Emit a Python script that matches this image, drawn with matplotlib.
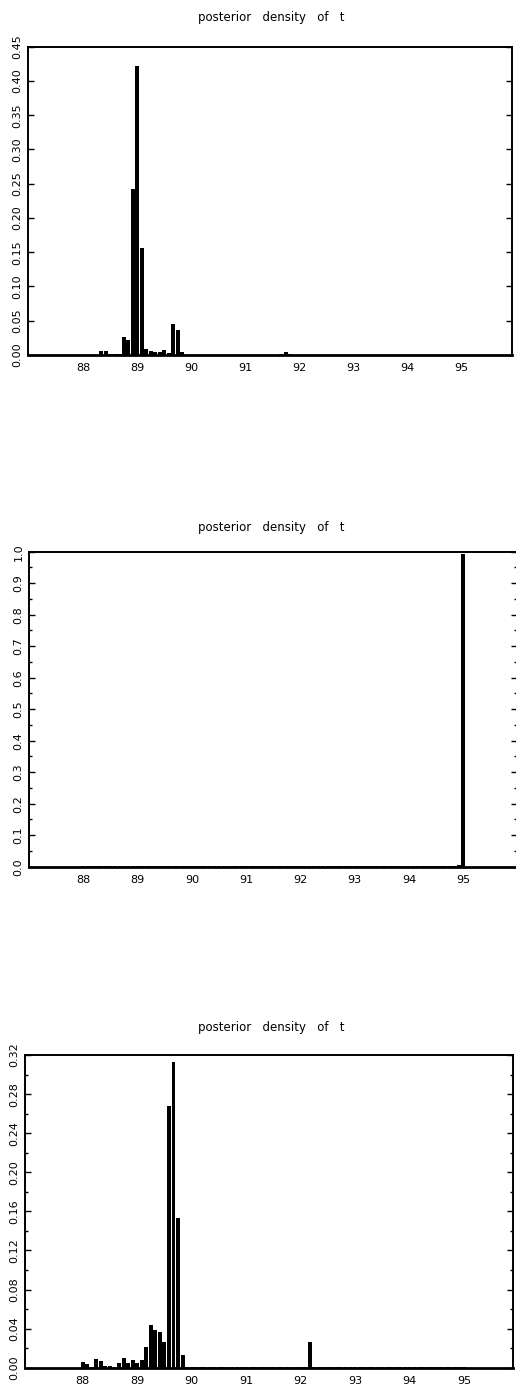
import numpy as np
import matplotlib
matplotlib.use('Agg')
import matplotlib.pyplot as plt
from matplotlib.ticker import MultipleLocator, FormatStrFormatter

# monthly bins from 88.0 to 95.0
t = 88 + np.arange(85) / 12.0

dens_a = [0.0005, 0.0005, 0.0005, 0.0005, 0.006, 0.006, 0.002, 0.001, 0.002, 0.026,
          0.022, 0.243, 0.422, 0.156, 0.009, 0.006, 0.004, 0.004, 0.007, 0.003,
          0.045, 0.036, 0.004] + [0.0005] * 18 + [0.0, 0.0005, 0.0005, 0.0015, 0.004, 0.002] + [0.0005] * 38

dens_b = [0.002] * 83 + [0.006, 0.993]

dens_c = [0.006, 0.004, 0.0005, 0.0085, 0.007, 0.002, 0.002, 0.001, 0.0045, 0.010,
          0.005, 0.008, 0.0045, 0.008, 0.0215, 0.0437, 0.0385, 0.0365, 0.026, 0.268,
          0.313, 0.153, 0.013] + [0.0005] * 27 + [0.0263] + [0.0005] * 34

title = 'posterior   density   of   t'
xticks = [88, 89, 90, 91, 92, 93, 94, 95]

plt.rcParams['font.family'] = ['DejaVu Sans']
plt.rcParams['font.size'] = 8

fig = plt.figure(figsize=(5.16, 13.88), dpi=100)

panels = [
    # data, axes rect, xlim, ymax, major, minor, fmt, title y
    (dens_a, [28/516, 1 - 355/1388, 484/516, 308.3/1388], (86.98, 95.94), 0.45, 0.05, None, '%.2f', 1 - 17/1388),
    (dens_b, [29/516, 1 - 866.7/1388, 488/516, 315/1388], (87.0, 95.99), 1.0, 0.1, 0.05, '%.1f', 1 - 527/1388),
    (dens_c, [25/516, 1 - 1367.7/1388, 488/516, 312.7/1388], (86.94, 95.9), 0.32, 0.04, 0.02, '%.2f', 1 - 1027/1388),
]

for dens, rect, xlim, ymax, major, minor, fmt, ty in panels:
    ax = fig.add_axes(rect)
    ax.bar(t, dens, width=0.072, color='black', linewidth=0)
    ax.set_xlim(*xlim)
    ax.set_ylim(0, ymax)
    ax.set_xticks(xticks)
    ax.set_xticklabels([str(x) for x in xticks])
    ax.tick_params(axis='x', length=0, pad=6)
    ax.yaxis.set_major_locator(MultipleLocator(major))
    if minor:
        ax.yaxis.set_minor_locator(MultipleLocator(minor))
    ax.yaxis.set_major_formatter(FormatStrFormatter(fmt))
    ax.tick_params(axis='y', which='both', direction='in', left=True, right=True,
                   length=4, width=1, pad=4)
    ax.tick_params(axis='y', which='minor', length=2.5)
    for lbl in ax.get_yticklabels():
        lbl.set_rotation(90)
        lbl.set_va('center')
    for s in ax.spines.values():
        s.set_linewidth(1.4)
    ax.spines['bottom'].set_linewidth(2)
    fig.text(271/516, ty, title, ha='center', va='center', fontsize=8.5)

fig.savefig('out.png', dpi=100)
